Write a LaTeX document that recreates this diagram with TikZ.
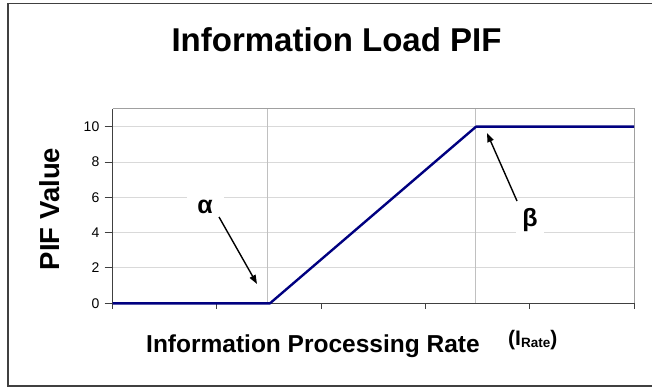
\documentclass[tikz,border=0pt]{standalone}
\usepackage{fontspec}
\setmainfont{Liberation Sans}
\usetikzlibrary{arrows.meta}
\definecolor{navyline}{RGB}{0,0,128}
\definecolor{gridc}{RGB}{217,217,217}
\definecolor{vgridc}{RGB}{192,192,192}
\definecolor{framec}{RGB}{64,64,64}
\definecolor{plotframe}{RGB}{160,160,160}
\tikzset{
  ticklab/.style={anchor=east, inner sep=0pt, font=\fontsize{14}{16}\selectfont},
  greeklab/.style={anchor=base, fill=white, inner sep=6pt, font=\bfseries\fontsize{25}{27}\selectfont},
  callout/.style={draw=black, line width=1.4pt, -{Triangle[length=9pt,width=6.5pt]}},
  hgrid/.style={draw=gridc, line width=1pt},
  vgrid/.style={draw=vgridc, line width=1pt},
  axisline/.style={draw=framec, line width=1.3pt},
  dataline/.style={draw=navyline, line width=2.4pt, line join=round}
}
\begin{document}
\begin{tikzpicture}[x=1pt, y=-1pt]
\useasboundingbox (0,0) rectangle (652,387);
\clip (0,0) rectangle (652,387);
\fill[white] (0,0) rectangle (652,387);
% outer frame
\draw[framec, line width=1.6pt] (8,3.5) rectangle (700,386);
% title
\node[anchor=base, inner sep=0pt, font=\bfseries\fontsize{33}{37}\selectfont] (title) at (336.5,51.7) {Information Load PIF};
% horizontal grid
\foreach \v in {2,4,6,8,10} {
  \draw[hgrid] (112.7,{303.3-17.66*\v}) -- (634,{303.3-17.66*\v});
}
% plot frame top/right
\draw[plotframe, line width=1pt] (112.7,109) -- (634,109) -- (634,303.3);
% vertical grid
\draw[vgrid] (267.3,109) -- (267.3,303.3);
\draw[vgrid] (475.8,109) -- (475.8,303.3);
% axes
\draw[axisline] (112.7,109) -- (112.7,303.3);
\draw[axisline] (112.7,303.3) -- (634,303.3);
% y ticks and labels
\foreach \v in {0,2,4,6,8,10} {
  \draw[framec, line width=1pt] (104.5,{303.3-17.66*\v}) -- (112.7,{303.3-17.66*\v});
  \node[ticklab] (yt\v) at (99.5,{303.3-17.66*\v}) {\v};
}
% x ticks
\foreach \i in {0,...,5} {
  \draw[framec, line width=1pt] ({112.7+104.26*\i},303.3) -- ({112.7+104.26*\i},308.5);
}
% data line
\draw[dataline] (112.7,303.3) -- (270,303.3) -- (476,126.7) -- (634,126.7);
% axis titles
\node[anchor=center, rotate=90, inner sep=0pt, font=\bfseries\fontsize{27.5}{31}\selectfont] (ylab) at (49.5,209) {PIF Value};
\node[anchor=base west, inner sep=0pt, font=\bfseries\fontsize{24.5}{28}\selectfont] (xlab) at (146,352) {Information Processing Rate};
\node[anchor=base west, inner sep=0pt, font=\bfseries\fontsize{21}{24}\selectfont] (xsym) at (508,345) {(I\raisebox{-2pt}{\fontsize{13.5}{15}\selectfont Rate})};
% labels alpha, beta
\node[greeklab, minimum width=37pt] (alpha) at (205,213.3) {α};
\node[greeklab, minimum width=28pt] (beta) at (530,226.8) {β};
\coordinate (alphaStart) at (219,217);
\coordinate (alphaTip) at (257,284);
\coordinate (betaStart) at (517,201);
\coordinate (betaTip) at (487,133);
\draw[callout] (alphaStart) -- (alphaTip);
\draw[callout] (betaStart) -- (betaTip);
\end{tikzpicture}
\end{document}
